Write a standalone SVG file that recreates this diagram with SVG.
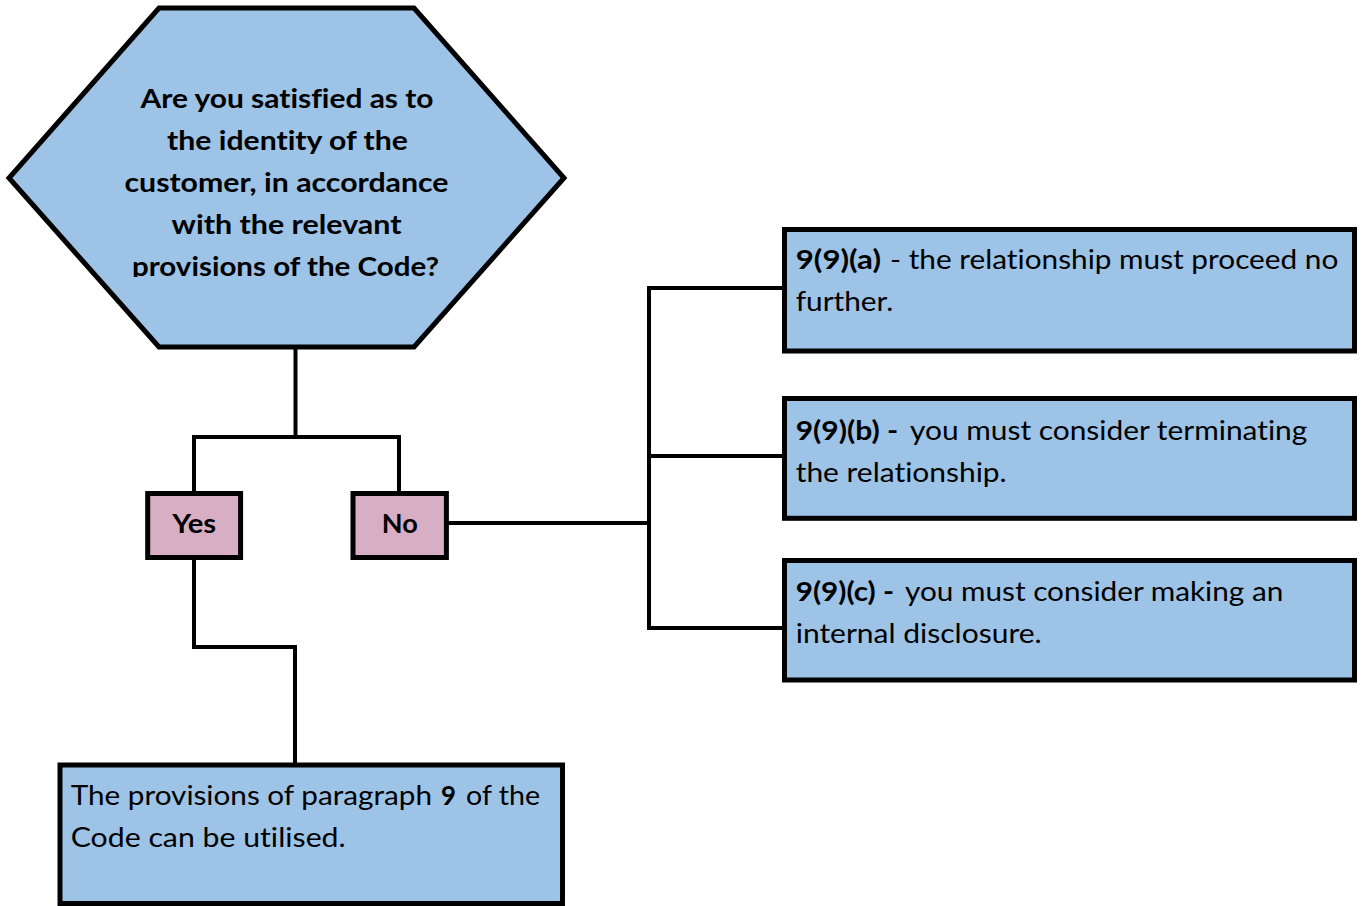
<svg xmlns="http://www.w3.org/2000/svg" width="1363" height="906" viewBox="0 0 1363 906">
<style>
.bg{fill:#ffffff}
.blue{fill:#9DC3E6;stroke:#000;stroke-width:5}
.pink{fill:#D8AEC4;stroke:#000;stroke-width:5}
.con{fill:none;stroke:#000;stroke-width:4;stroke-linejoin:miter;stroke-linecap:butt}
text{font-family:Lato,"Open Sans","Liberation Sans",sans-serif;fill:#000;font-variant-ligatures:none}
.b{font-weight:bold;font-size:27px}
.n{font-weight:normal;font-size:26px}
.nb{font-weight:bold}
</style>
<defs>
<clipPath id="hexclip"><rect x="0" y="0" width="600" height="277"/></clipPath>
</defs>
<rect class="bg" x="0" y="0" width="1363" height="906"/>
<g id="connectors">
<path class="con" d="M295.5 347 V437"/>
<path class="con" d="M194 493.5 V437 H399 V493.5"/>
<path class="con" d="M446.4 523 H649"/>
<path class="con" d="M784.5 288 H649 V628 H784.5"/>
<path class="con" d="M649 456 H784.5"/>
<path class="con" d="M194 557.5 V647 H295 V765"/>
</g>
<g id="question">
<polygon class="blue" stroke-width="4.5" points="159,8 414,8 564,178 414,347 159,347 9,178"/>
<g clip-path="url(#hexclip)">
<text class="b" x="140.5" y="108" textLength="293" lengthAdjust="spacingAndGlyphs">Are you satisfied as to</text>
<text class="b" x="167" y="150" textLength="241" lengthAdjust="spacingAndGlyphs">the identity of the</text>
<text class="b" x="124.5" y="192" textLength="324" lengthAdjust="spacingAndGlyphs">customer, in accordance</text>
<text class="b" x="171.5" y="234" textLength="230" lengthAdjust="spacingAndGlyphs">with the relevant</text>
<text class="b" x="132" y="276" textLength="307" lengthAdjust="spacingAndGlyphs">provisions of the Code?</text>
</g>
</g>
<g id="yes">
<rect class="pink" x="147.7" y="493.5" width="92.9" height="64"/>
<text class="b" x="172.2" y="533" textLength="44" lengthAdjust="spacingAndGlyphs">Yes</text>
</g>
<g id="no">
<rect class="pink" x="353" y="493.5" width="93.4" height="64"/>
<text class="b" x="381.7" y="533" textLength="36" lengthAdjust="spacingAndGlyphs">No</text>
</g>
<g id="outcome-a">
<rect class="blue" x="784.5" y="229.5" width="570" height="121.5"/>
<text class="n" y="268.7"><tspan class="nb" x="795.7" textLength="85.3" lengthAdjust="spacingAndGlyphs">9(9)(a)</tspan><tspan x="890" textLength="448.3" lengthAdjust="spacingAndGlyphs">- the relationship must proceed no</tspan></text>
<text class="n" x="795.7" y="311.3" textLength="97.6" lengthAdjust="spacingAndGlyphs">further.</text>
</g>
<g id="outcome-b">
<rect class="blue" x="784.5" y="398.5" width="570" height="119.8"/>
<text class="n" y="440"><tspan class="nb" x="795.7" textLength="102.6" lengthAdjust="spacingAndGlyphs">9(9)(b) -</tspan><tspan x="910" textLength="397.3" lengthAdjust="spacingAndGlyphs">you must consider terminating</tspan></text>
<text class="n" x="795.7" y="481.7" textLength="211" lengthAdjust="spacingAndGlyphs">the relationship.</text>
</g>
<g id="outcome-c">
<rect class="blue" x="784.5" y="560.5" width="570" height="119.5"/>
<text class="n" y="601.3"><tspan class="nb" x="795.7" textLength="98.3" lengthAdjust="spacingAndGlyphs">9(9)(c) -</tspan><tspan x="905" textLength="378.3" lengthAdjust="spacingAndGlyphs">you must consider making an</tspan></text>
<text class="n" x="795.7" y="643" textLength="246" lengthAdjust="spacingAndGlyphs">internal disclosure.</text>
</g>
<g id="outcome-yes">
<rect class="blue" x="60" y="765" width="502.5" height="138.5"/>
<text class="n" y="805"><tspan x="70.7" textLength="361.3" lengthAdjust="spacingAndGlyphs">The provisions of paragraph</tspan><tspan class="nb" x="441" textLength="15" lengthAdjust="spacingAndGlyphs">9</tspan><tspan x="466" textLength="74" lengthAdjust="spacingAndGlyphs">of the</tspan></text>
<text class="n" x="70.7" y="846.7" textLength="275" lengthAdjust="spacingAndGlyphs">Code can be utilised.</text>
</g>
</svg>
